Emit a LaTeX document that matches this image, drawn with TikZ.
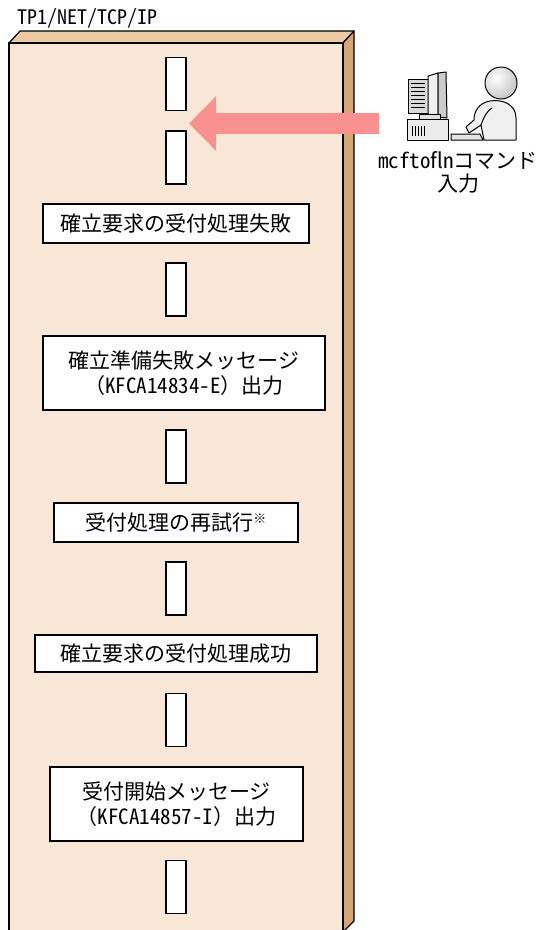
\documentclass[tikz,border=0pt]{standalone}
\usepackage{fontspec}
\setmainfont{Noto Sans CJK JP}
\newfontfamily\hw[RawFeature=+hwid]{Noto Sans CJK JP}
\usetikzlibrary{arrows.meta}
\definecolor{wallfront}{RGB}{248,231,215}
\definecolor{walltop}{RGB}{236,200,164}
\definecolor{wallside}{RGB}{214,166,118}
\definecolor{arrowpink}{RGB}{249,145,145}
\tikzset{
  slot/.style={draw=black, line width=1.2pt, fill=white, minimum width=20pt, minimum height=53pt, inner sep=0pt},
  stepbox/.style={draw=black, line width=1.2pt, fill=white, align=center, inner sep=0pt, font=\fontsize{21}{25}\selectfont},
  label/.style={inner sep=0pt, font=\fontsize{21}{23}\selectfont, align=center},
  edge/.style={line width=1.2pt, line join=round},
}
\begin{document}
\begin{tikzpicture}[x=1pt,y=-1pt]
\useasboundingbox (0,0) rectangle (548,930);
\clip (0,0) rectangle (548,930);

% the TP1/NET/TCP/IP block: front, top and side faces
\fill[wallfront] (9,43) rectangle (343,940);
\filldraw[fill=walltop, edge] (9,43) -- (20,31) -- (354,31) -- (343,43) -- cycle;
\filldraw[fill=wallside, edge] (343,43) -- (354,31) -- (354,921) -- (343,932) -- cycle;
\draw[edge] (9,940) -- (9,43) -- (343,43) -- (343,940);

\node[label, font=\fontsize{20}{23}\selectfont, anchor=base west] (title) at (17,24) {\hw TP1/NET/TCP/IP};

% processing steps
\node[slot] (s1) at (176,84) {};
\node[slot] (s2) at (176,157.5) {};
\node[stepbox, minimum width=266pt, minimum height=39pt] (b1) at (176,223.5) {確立要求の受付処理失敗};
\node[slot] (s3) at (176,289.5) {};
\node[stepbox, minimum width=282pt, minimum height=74pt] (b2) at (184,373) {確立準備失敗メッセージ\\（{\hw KFCA14834-E}）出力};
\node[slot] (s4) at (176,456.5) {};
\node[stepbox, minimum width=244pt, minimum height=39pt] (b3) at (176,522.5) {受付処理の再試行{\fontsize{13}{13}\selectfont\raisebox{7pt}{※}}};
\node[slot] (s5) at (176,588.5) {};
\node[stepbox, minimum width=282pt, minimum height=37pt] (b4) at (176,653.5) {確立要求の受付処理成功};
\node[slot] (s6) at (176,720) {};
\node[stepbox, minimum width=253pt, minimum height=74pt] (b5) at (176.5,804) {受付開始メッセージ\\（{\hw KFCA14857-I}）出力};
\node[slot] (s7) at (176,887) {};

% operator at the terminal
\begin{scope}[line width=1pt, line join=round]
  % monitor
  \filldraw[fill=gray!30] (408,79) rectangle (428,113);
  \foreach \yy in {83,87,...,107} \draw[line width=0.8pt] (411,\yy) -- (425,\yy);
  \filldraw[fill=gray!12] (428,76) -- (438,73) -- (438,117) -- (428,114) -- cycle;
  \filldraw[fill=gray!40] (438,73) -- (446,72) -- (447,118) -- (438,117) -- cycle;
  \filldraw[fill=gray!25] (419,114) rectangle (440,119);
  % system unit
  \filldraw[fill=gray!15] (407,119) rectangle (448,140);
  \foreach \xx in {412,415,...,424} \draw[line width=0.8pt] (\xx,126) -- (\xx,136);
  % keyboard
  \filldraw[fill=gray!20] (451,134) -- (480,134) -- (483,140) -- (451,140) -- cycle;
  % person
  \begin{scope}
    \clip (501,83) circle (16);
    \shade[inner color=white, outer color=gray!45] (496,78) circle (22);
  \end{scope}
  \draw (501,83) circle (16);
  \filldraw[fill=gray!12] (516,140) -- (516,118) .. controls (516,104) and (502,99) .. (490,101)
     .. controls (479,103) and (474,111) .. (474,120) -- (466,127) -- (469,133) -- (481,125) -- (484,140) -- cycle;
  \draw (481,125) .. controls (484,116) and (488,110) .. (492,108);
\end{scope}
\coordinate (op) at (379,123.5);
\coordinate (gap) at (189,123.5);
\node[label] (cmd1) at (458,160) {{\hw mcftofln}コマンド};
\node[label] (cmd2) at (458,184) {入力};

% command input arrow
\draw[arrowpink, line width=21pt, -{Triangle[length=27pt,width=53pt]}] (op) -- (gap);
\end{tikzpicture}
\end{document}
